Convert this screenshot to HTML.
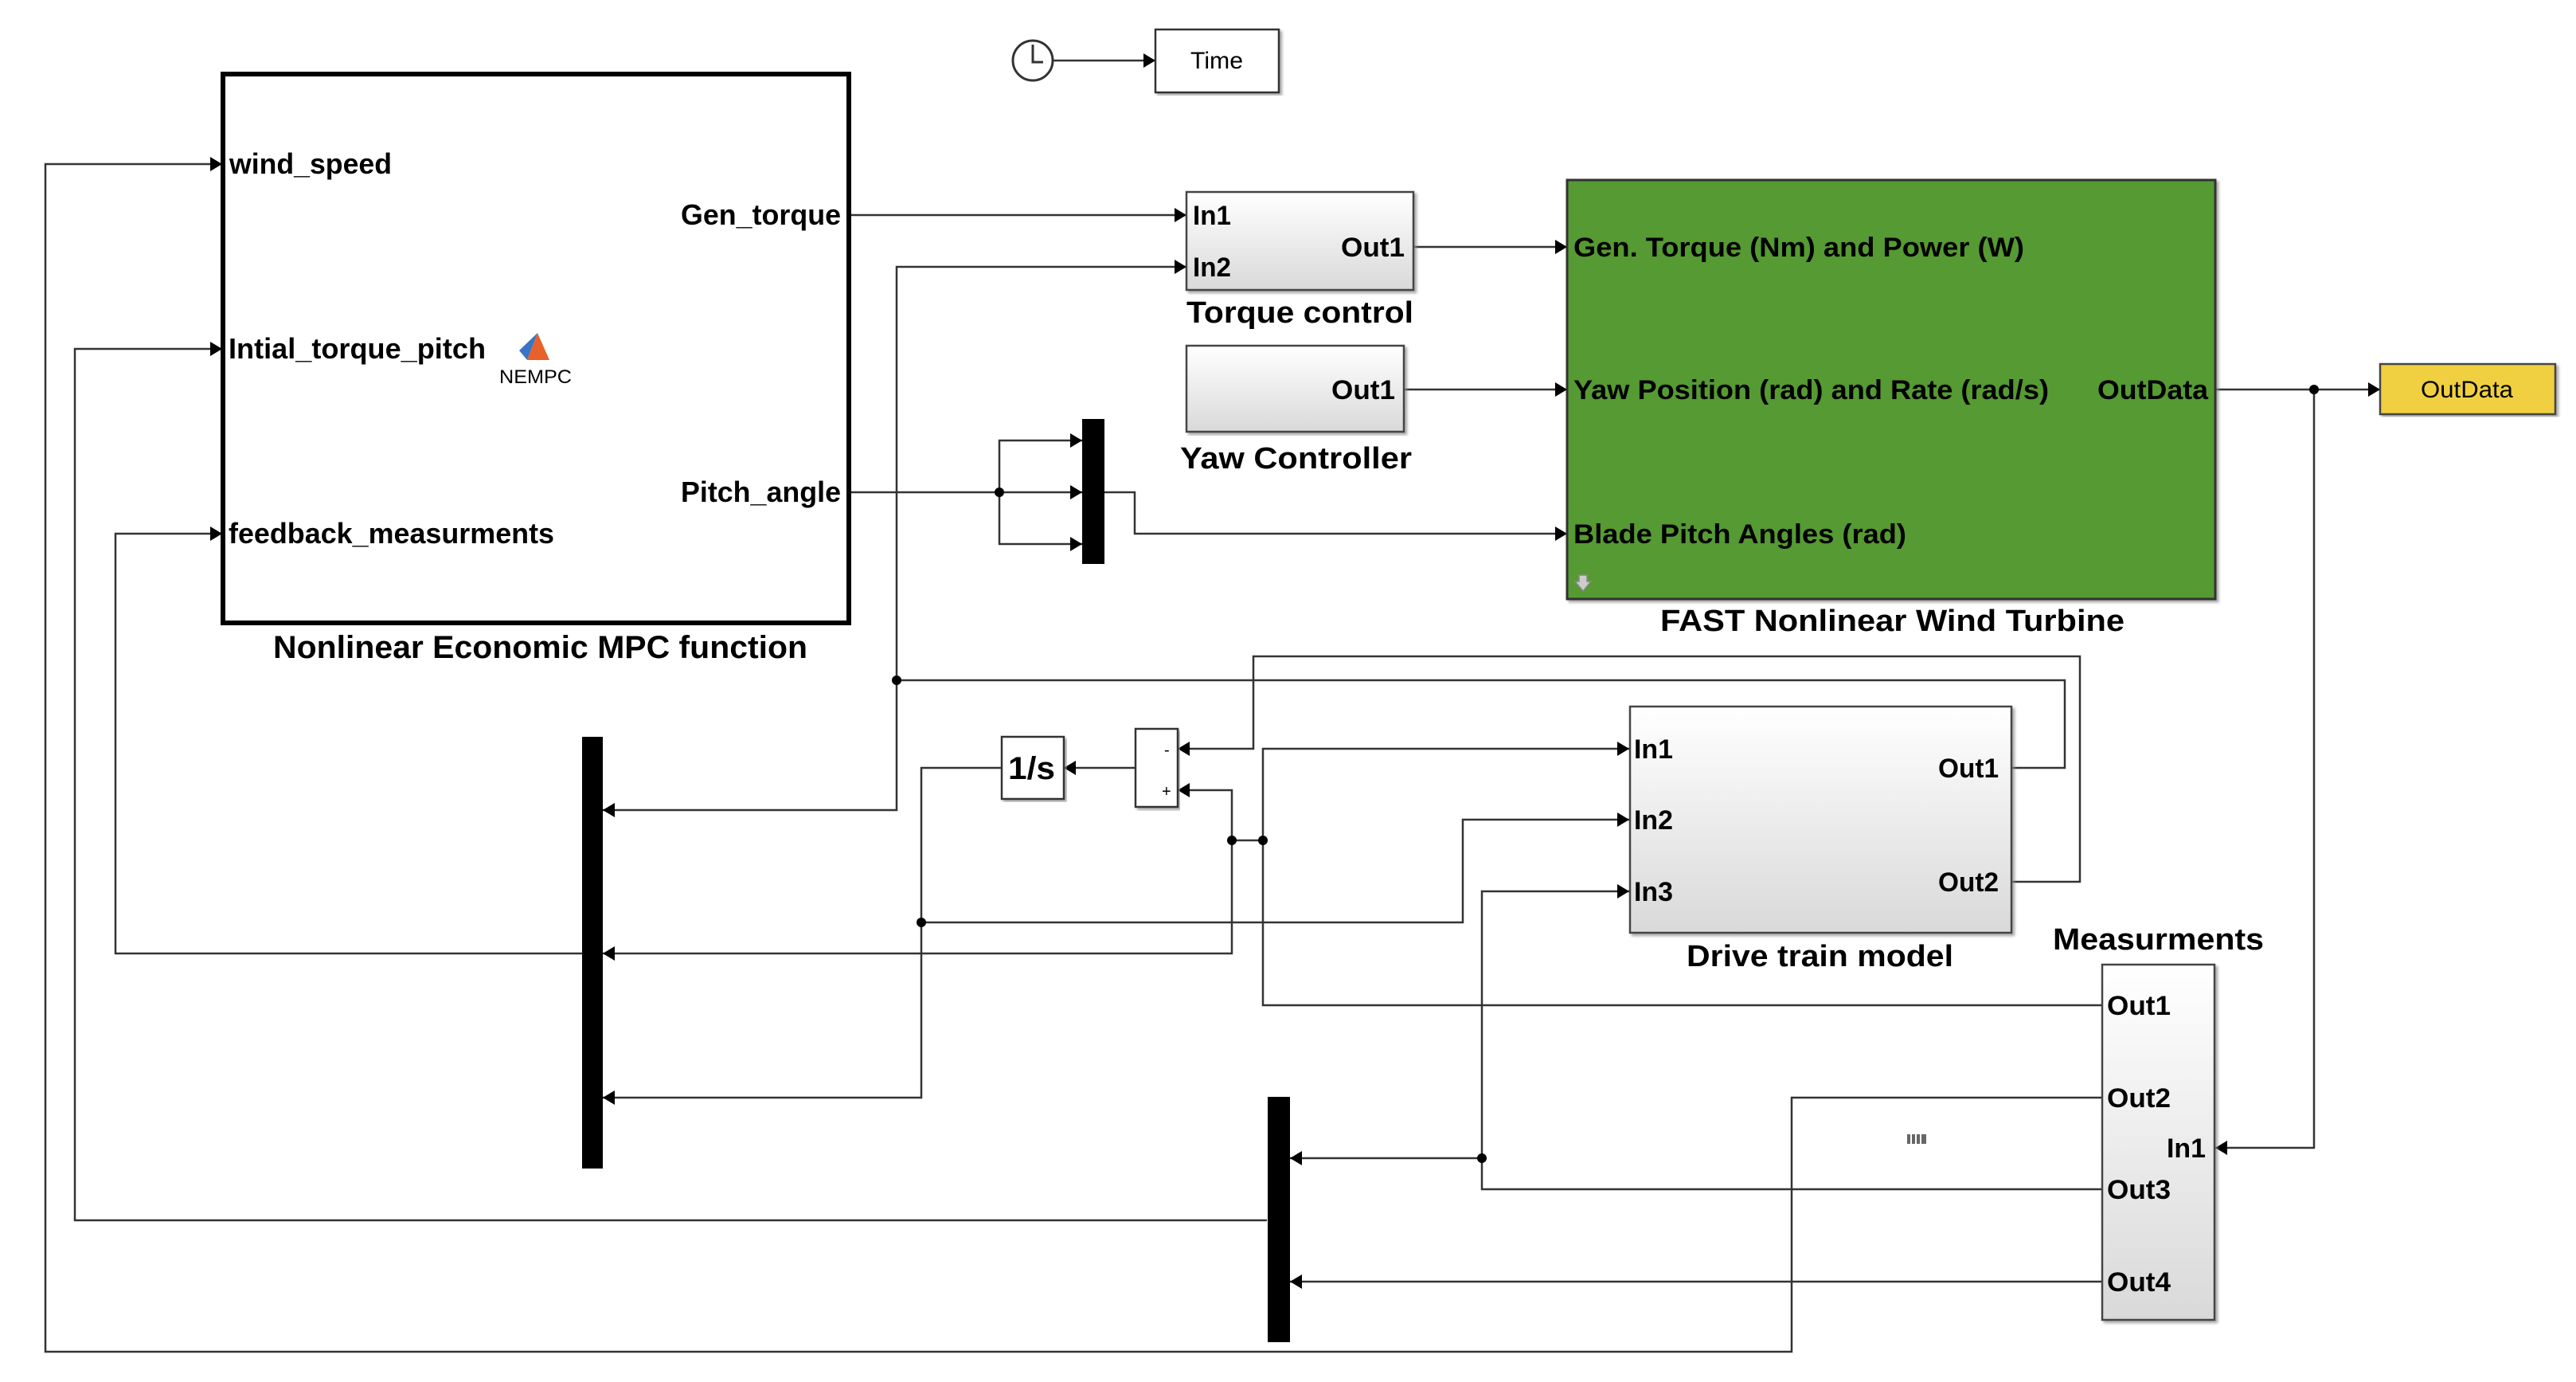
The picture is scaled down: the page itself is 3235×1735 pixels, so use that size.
<!DOCTYPE html>
<html><head><meta charset="utf-8"><style>
html,body{margin:0;padding:0;background:#fff;}
svg{display:block;}
text{font-family:"Liberation Sans",Arial,sans-serif;fill:#000;}
.b{font-weight:bold;}
</style></head><body>
<svg width="3235" height="1735" viewBox="0 0 3235 1735" xmlns="http://www.w3.org/2000/svg">
<defs>
<marker id="a" markerUnits="userSpaceOnUse" markerWidth="16" markerHeight="18" refX="15" refY="9" orient="auto">
<path d="M0,0 L15,9 L0,18 z" fill="#000"/></marker>
<linearGradient id="g" x1="0" y1="0" x2="0" y2="1"><stop offset="0" stop-color="#ffffff"/><stop offset="1" stop-color="#d9d9d9"/></linearGradient>
<filter id="sh" x="-5%" y="-5%" width="110%" height="110%"><feDropShadow dx="3" dy="3" stdDeviation="1.5" flood-color="#888" flood-opacity="0.7"/></filter>
</defs>

<g fill="none" stroke="#333" stroke-width="2.5">
<polyline points="1322,76 1451,76" marker-end="url(#a)"/>
<polyline points="1066,270 1490,270" marker-end="url(#a)"/>
<polyline points="1775,310 1968,310" marker-end="url(#a)"/>
<polyline points="1763,489 1968,489" marker-end="url(#a)"/>
<polyline points="1066,618 1359,618" marker-end="url(#a)"/>
<polyline points="1255,618 1255,553 1359,553" marker-end="url(#a)"/>
<polyline points="1255,618 1255,683 1359,683" marker-end="url(#a)"/>
<polyline points="1387,618 1425,618 1425,670 1968,670" marker-end="url(#a)"/>
<polyline points="2782,489 2989,489" marker-end="url(#a)"/>
<polyline points="2906,489 2906,1441 2782,1441" marker-end="url(#a)"/>
<polyline points="2526,964 2593,964 2593,854 1126,854"/>
<polyline points="1126,854 1126,335 1490,335" marker-end="url(#a)"/>
<polyline points="1126,854 1126,1017 757,1017" marker-end="url(#a)"/>
<polyline points="2526,1107 2612,1107 2612,824 1574,824 1574,940 1479,940" marker-end="url(#a)"/>
<polyline points="1426,964 1336,964" marker-end="url(#a)"/>
<polyline points="1258,964 1157,964 1157,1378 757,1378" marker-end="url(#a)"/>
<polyline points="1157,1158 1837,1158 1837,1029 2046,1029" marker-end="url(#a)"/>
<polyline points="2640,1262 1586,1262 1586,940 2046,940" marker-end="url(#a)"/>
<polyline points="1586,1055 1547,1055"/>
<polyline points="1547,1055 1547,992 1479,992" marker-end="url(#a)"/>
<polyline points="1547,1055 1547,1197 757,1197" marker-end="url(#a)"/>
<polyline points="731,1197 145,1197 145,670 279,670" marker-end="url(#a)"/>
<polyline points="2640,1378 2250,1378 2250,1697 57,1697 57,206 279,206" marker-end="url(#a)"/>
<polyline points="2640,1493 1861,1493 1861,1119 2046,1119" marker-end="url(#a)"/>
<polyline points="1861,1454 1620,1454" marker-end="url(#a)"/>
<polyline points="2640,1609 1620,1609" marker-end="url(#a)"/>
<polyline points="1591,1532 94,1532 94,438 279,438" marker-end="url(#a)"/>
</g>
<g fill="#000">
<circle cx="1255" cy="618" r="6"/><circle cx="2906" cy="489" r="6"/><circle cx="1126" cy="854" r="6"/>
<circle cx="1157" cy="1158" r="6"/><circle cx="1586" cy="1055" r="6"/><circle cx="1547" cy="1055" r="6"/>
<circle cx="1861" cy="1454" r="6"/>
</g>

<!-- clock -->
<circle cx="1297" cy="76" r="25" fill="#fff" stroke="#333" stroke-width="3"/>
<polyline points="1297,56 1297,78 1310,78" fill="none" stroke="#333" stroke-width="3"/>
<rect x="1451" y="37" width="155" height="79" fill="#fff" stroke="#333" stroke-width="2.5" filter="url(#sh)"/>
<text x="1528" y="86" font-size="30" text-anchor="middle" textLength="66" lengthAdjust="spacingAndGlyphs">Time</text>

<!-- MPC -->
<rect x="280" y="93" width="786" height="689" fill="#fff" stroke="#000" stroke-width="6"/>
<text class="b" x="288" y="218" font-size="36" textLength="204" lengthAdjust="spacingAndGlyphs">wind_speed</text>
<text class="b" x="287" y="450" font-size="36" textLength="323" lengthAdjust="spacingAndGlyphs">Intial_torque_pitch</text>
<text class="b" x="287" y="682" font-size="36" textLength="409" lengthAdjust="spacingAndGlyphs">feedback_measurments</text>
<text class="b" x="855" y="282" font-size="36" textLength="201" lengthAdjust="spacingAndGlyphs">Gen_torque</text>
<text class="b" x="855" y="630" font-size="36" textLength="201" lengthAdjust="spacingAndGlyphs">Pitch_angle</text>
<path d="M675,418 L690,452 L662,452 Z" fill="#e8612a"/><path d="M675,418 L662,452 L652,440 Z" fill="#3a75c4"/>
<text x="627" y="481" font-size="24" textLength="91" lengthAdjust="spacingAndGlyphs" fill="#222">NEMPC</text>
<text class="b" x="343" y="826" font-size="40" textLength="671" lengthAdjust="spacingAndGlyphs">Nonlinear Economic MPC function</text>

<!-- torque control -->
<rect x="1490" y="241" width="285" height="123" fill="url(#g)" stroke="#444" stroke-width="2.5" filter="url(#sh)"/>
<text class="b" x="1498" y="282" font-size="34" textLength="48" lengthAdjust="spacingAndGlyphs">In1</text>
<text class="b" x="1498" y="347" font-size="34" textLength="48" lengthAdjust="spacingAndGlyphs">In2</text>
<text class="b" x="1684" y="322" font-size="34" textLength="80" lengthAdjust="spacingAndGlyphs">Out1</text>
<text class="b" x="1490" y="405" font-size="38" textLength="285" lengthAdjust="spacingAndGlyphs">Torque control</text>

<!-- yaw -->
<rect x="1490" y="434" width="273" height="108" fill="url(#g)" stroke="#444" stroke-width="2.5" filter="url(#sh)"/>
<text class="b" x="1672" y="501" font-size="34" textLength="80" lengthAdjust="spacingAndGlyphs">Out1</text>
<text class="b" x="1482" y="588" font-size="38" textLength="291" lengthAdjust="spacingAndGlyphs">Yaw Controller</text>

<!-- pitch mux -->
<rect x="1359" y="526" width="28" height="182" fill="#000"/>

<!-- FAST -->
<rect x="1968" y="226" width="814" height="526" fill="#559a33" stroke="#333" stroke-width="3" filter="url(#sh)"/>
<text class="b" x="1976" y="322" font-size="34" textLength="566" lengthAdjust="spacingAndGlyphs">Gen. Torque (Nm) and Power (W)</text>
<text class="b" x="1976" y="501" font-size="34" textLength="597" lengthAdjust="spacingAndGlyphs">Yaw Position (rad) and Rate (rad/s)</text>
<text class="b" x="2634" y="501" font-size="34" textLength="139" lengthAdjust="spacingAndGlyphs">OutData</text>
<text class="b" x="1976" y="682" font-size="34" textLength="418" lengthAdjust="spacingAndGlyphs">Blade Pitch Angles (rad)</text>
<path d="M1983,722 h10 v8 h5 l-10,12 l-10,-12 h5 z" fill="#ccc" stroke="#888" stroke-width="1.5"/>
<text class="b" x="2085" y="792" font-size="38" textLength="583" lengthAdjust="spacingAndGlyphs">FAST Nonlinear Wind Turbine</text>

<!-- OutData -->
<rect x="2989" y="457" width="220" height="63" fill="#f0d040" stroke="#444" stroke-width="2.5" filter="url(#sh)"/>
<text x="3040" y="499" font-size="30" textLength="116" lengthAdjust="spacingAndGlyphs">OutData</text>

<!-- big mux -->
<rect x="731" y="925" width="26" height="542" fill="#000"/>
<!-- 1/s -->
<rect x="1258" y="925" width="78" height="78" fill="#fff" stroke="#333" stroke-width="2.5" filter="url(#sh)"/>
<text class="b" x="1266" y="978" font-size="40" textLength="59" lengthAdjust="spacingAndGlyphs">1/s</text>
<!-- sum -->
<rect x="1426" y="915" width="53" height="98" fill="#fff" stroke="#333" stroke-width="2.5" filter="url(#sh)"/>
<text x="1462" y="948" font-size="20">-</text>
<text x="1459" y="1000" font-size="20">+</text>

<!-- drivetrain -->
<rect x="2047" y="887" width="479" height="284" fill="url(#g)" stroke="#444" stroke-width="2.5" filter="url(#sh)"/>
<text class="b" x="2052" y="952" font-size="34" textLength="49" lengthAdjust="spacingAndGlyphs">In1</text>
<text class="b" x="2052" y="1041" font-size="34" textLength="49" lengthAdjust="spacingAndGlyphs">In2</text>
<text class="b" x="2052" y="1131" font-size="34" textLength="49" lengthAdjust="spacingAndGlyphs">In3</text>
<text class="b" x="2434" y="976" font-size="34" textLength="76" lengthAdjust="spacingAndGlyphs">Out1</text>
<text class="b" x="2434" y="1119" font-size="34" textLength="76" lengthAdjust="spacingAndGlyphs">Out2</text>
<text class="b" x="2118" y="1213" font-size="38" textLength="335" lengthAdjust="spacingAndGlyphs">Drive train model</text>

<!-- measurements -->
<text class="b" x="2578" y="1192" font-size="38" textLength="265" lengthAdjust="spacingAndGlyphs">Measurments</text>
<rect x="2640" y="1211" width="141" height="446" fill="url(#g)" stroke="#444" stroke-width="2.5" filter="url(#sh)"/>
<text class="b" x="2646" y="1274" font-size="34" textLength="80" lengthAdjust="spacingAndGlyphs">Out1</text>
<text class="b" x="2646" y="1390" font-size="34" textLength="80" lengthAdjust="spacingAndGlyphs">Out2</text>
<text class="b" x="2721" y="1453" font-size="34" textLength="49" lengthAdjust="spacingAndGlyphs">In1</text>
<text class="b" x="2646" y="1505" font-size="34" textLength="80" lengthAdjust="spacingAndGlyphs">Out3</text>
<text class="b" x="2646" y="1621" font-size="34" textLength="80" lengthAdjust="spacingAndGlyphs">Out4</text>
<g fill="#666"><rect x="2395" y="1424" width="4" height="12"/><rect x="2401" y="1424" width="4" height="12"/><rect x="2407" y="1424" width="4" height="12"/><rect x="2413" y="1424" width="6" height="12"/></g>

<!-- small mux -->
<rect x="1592" y="1377" width="28" height="308" fill="#000"/>
</svg>
</body></html>
